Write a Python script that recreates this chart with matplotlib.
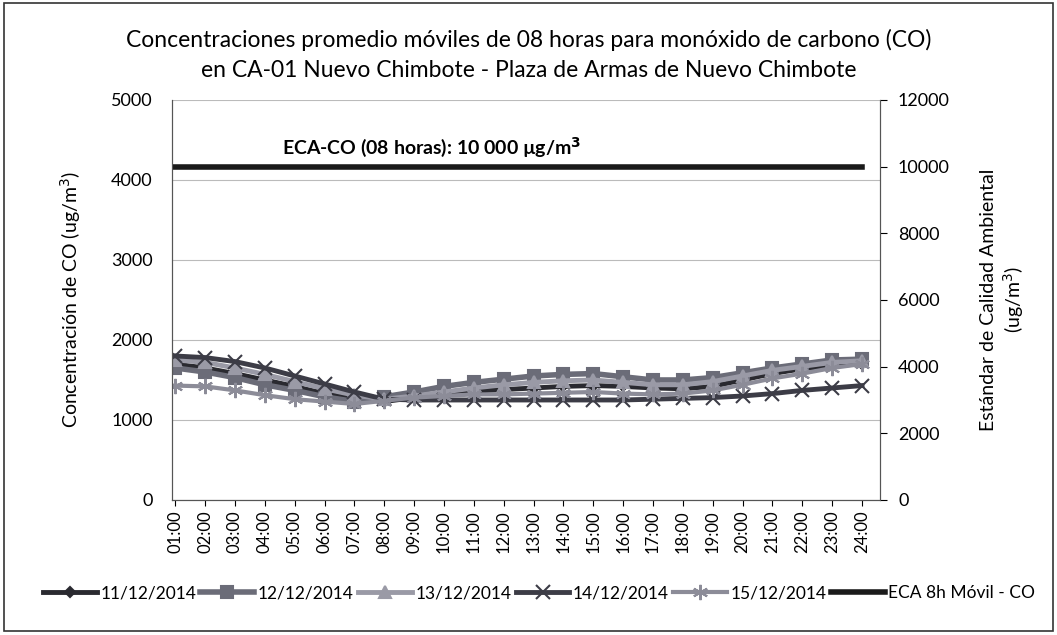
import numpy as np
import matplotlib.pyplot as plt
from matplotlib.patches import Rectangle

plt.rcParams['font.family'] = ['Lato', 'DejaVu Sans']

hours = [f"{h:02d}:00" for h in range(1, 25)]

d11 = [1700, 1650, 1580, 1500, 1420, 1330, 1270, 1230, 1280, 1320, 1360, 1380,
       1400, 1420, 1430, 1420, 1400, 1390, 1420, 1500, 1580, 1640, 1680, 1700]
d12 = [1650, 1600, 1530, 1440, 1370, 1290, 1230, 1290, 1350, 1420, 1470, 1510,
       1550, 1570, 1580, 1540, 1500, 1500, 1530, 1590, 1650, 1700, 1750, 1760]
d13 = [1750, 1720, 1650, 1570, 1480, 1390, 1310, 1260, 1300, 1350, 1400, 1440,
       1470, 1490, 1500, 1470, 1440, 1440, 1480, 1550, 1620, 1670, 1720, 1740]
d14 = [1800, 1780, 1730, 1650, 1550, 1450, 1350, 1260, 1250, 1250, 1250, 1250,
       1250, 1250, 1250, 1250, 1260, 1270, 1280, 1300, 1330, 1370, 1400, 1430]
d15 = [1430, 1420, 1370, 1310, 1260, 1230, 1200, 1240, 1280, 1300, 1320, 1320,
       1330, 1340, 1350, 1330, 1320, 1330, 1370, 1440, 1520, 1580, 1650, 1700]
eca = [10000] * 24

x = np.arange(len(hours))

fig = plt.figure(figsize=(10.57, 6.35), dpi=100)
fig.patches.append(Rectangle((0.004, 0.006), 0.992, 0.99, transform=fig.transFigure,
                             fill=False, edgecolor='#333333', lw=1.2))
ax = fig.add_axes([0.163, 0.2126, 0.6695, 0.63])
ax2 = ax.twinx()

series = [
    (d11, '11/12/2014', '#2a2a30', 'D', 5, 3.5),
    (d12, '12/12/2014', '#6b6c78', 's', 9, 4.0),
    (d13, '13/12/2014', '#9a9aa6', '^', 9, 3.5),
    (d14, '14/12/2014', '#3c3c46', 'x', 10, 3.5),
    (d15, '15/12/2014', '#8c8c98', (6, 2, 0), 11, 3.0),
]
handles = []
for vals, lab, col, mk, ms, lw in series:
    h, = ax.plot(x, vals, color=col, marker=mk, markersize=ms, lw=lw,
                 markeredgecolor=col, markeredgewidth=1.5, label=lab)
    handles.append(h)

h, = ax2.plot(x, eca, color='#1a1a1a', lw=4, label='ECA 8h Móvil - CO')
handles.append(h)

ax.set_xlim(-0.1, 23.6)
ax.set_ylim(0, 5000)
ax2.set_ylim(0, 12000)
ax.set_yticks(range(0, 5001, 1000))
ax2.set_yticks(range(0, 12001, 2000))
ax.set_xticks(x)
ax.set_xticklabels(hours, rotation=90, fontsize=12)
ax.tick_params(axis='y', labelsize=13, length=0, pad=14)
ax2.tick_params(axis='y', labelsize=13, length=5, direction='out', pad=8)
ax.tick_params(axis='x', length=4)
ax.grid(axis='y', color='#bbbbbb', lw=0.8)
ax.set_axisbelow(True)

for a in (ax, ax2):
    a.spines['top'].set_visible(False)
    for s in ('left', 'right', 'bottom'):
        a.spines[s].set_color('#555555')

ax.set_ylabel('Concentración de CO (ug/m$^3$)', fontsize=14, labelpad=20)
ax2.set_ylabel('Estándar de Calidad Ambiental\n(ug/m$^3$)', fontsize=14, labelpad=22)

fig.text(0.5, 0.937, 'Concentraciones promedio móviles de 08 horas para monóxido de carbono (CO)',
         ha='center', va='center', fontsize=16.5)
fig.text(0.5, 0.889, 'en CA-01 Nuevo Chimbote - Plaza de Armas de Nuevo Chimbote',
         ha='center', va='center', fontsize=16.5)
ax2.text(0.155, 0.883, 'ECA-CO (08 horas): 10 000 µg/m$^\\mathbf{3}$', transform=ax2.transAxes,
         fontsize=14, fontweight='bold', ha='left', va='center')

fig.legend(handles=handles, loc='center', bbox_to_anchor=(0.51, 0.066), ncol=6,
           frameon=False, fontsize=12.5, handlelength=3.1, handletextpad=0.2,
           columnspacing=0.25)

fig.savefig('out.png', dpi=100)
